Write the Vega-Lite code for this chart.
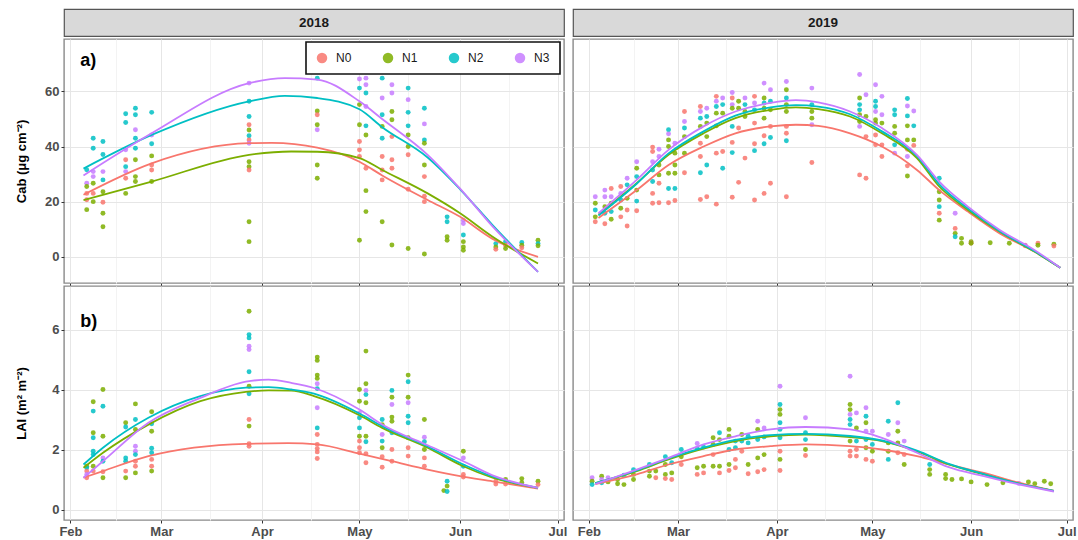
{
"$schema": "https://vega.github.io/schema/vega-lite/v6.json",
"padding": {"left": 14, "top": 8, "right": 0, "bottom": 0},
"background": "white",
"config": {
 "font": "Liberation Sans",
 "view": {"stroke": "#8a8a8a", "strokeWidth": 1.4},
 "axis": {"domain": false, "labelFont": "Liberation Sans", "labelFontWeight": "bold", "labelColor": "#4d4d4d", "labelFontSize": 13, "titleFont": "Liberation Sans", "titleFontSize": 13, "titleFontWeight": "bold", "titleColor": "#000000", "tickColor": "#333333", "tickSize": 3, "labelPadding": 2, "labelOverlap": false, "labelFlush": false},
 "legend": {"strokeWidth": 1.6}
},
"datasets": {
 "cab2018": [
  {"trt":"N2","date":"2018-02-06","val":31.6},{"trt":"N3","date":"2018-02-06","val":26.7},{"trt":"N1","date":"2018-02-06","val":25.5},{"trt":"N0","date":"2018-02-06","val":23},{"trt":"N0","date":"2018-02-06","val":20.7},{"trt":"N1","date":"2018-02-06","val":17.1},
  {"trt":"N2","date":"2018-02-08","val":43},{"trt":"N2","date":"2018-02-08","val":39.4},{"trt":"N3","date":"2018-02-08","val":30.9},{"trt":"N3","date":"2018-02-08","val":29.1},{"trt":"N1","date":"2018-02-08","val":26.7},{"trt":"N0","date":"2018-02-08","val":23},{"trt":"N1","date":"2018-02-08","val":20},
  {"trt":"N2","date":"2018-02-11","val":41.8},{"trt":"N2","date":"2018-02-11","val":37.1},{"trt":"N3","date":"2018-02-11","val":30.9},{"trt":"N2","date":"2018-02-11","val":27.9},{"trt":"N1","date":"2018-02-11","val":23.6},{"trt":"N0","date":"2018-02-11","val":19.8},{"trt":"N1","date":"2018-02-11","val":15.8},{"trt":"N1","date":"2018-02-11","val":10.9},
  {"trt":"N2","date":"2018-02-18","val":51.9},{"trt":"N2","date":"2018-02-18","val":48.7},{"trt":"N3","date":"2018-02-18","val":38.8},{"trt":"N0","date":"2018-02-18","val":35.2},{"trt":"N2","date":"2018-02-18","val":32.7},{"trt":"N3","date":"2018-02-18","val":30.9},{"trt":"N0","date":"2018-02-18","val":28.5},{"trt":"N1","date":"2018-02-18","val":23},
  {"trt":"N2","date":"2018-02-21","val":53.9},{"trt":"N2","date":"2018-02-21","val":51.5},{"trt":"N3","date":"2018-02-21","val":46.1},{"trt":"N2","date":"2018-02-21","val":43},{"trt":"N2","date":"2018-02-21","val":39.4},{"trt":"N1","date":"2018-02-21","val":35.2},{"trt":"N1","date":"2018-02-21","val":29.1},{"trt":"N1","date":"2018-02-21","val":27.3},
  {"trt":"N2","date":"2018-02-26","val":52.4},{"trt":"N3","date":"2018-02-26","val":44.2},{"trt":"N2","date":"2018-02-26","val":41},{"trt":"N1","date":"2018-02-26","val":36.6},{"trt":"N0","date":"2018-02-26","val":33.3},{"trt":"N0","date":"2018-02-26","val":31.5},{"trt":"N1","date":"2018-02-26","val":27.3},
  {"trt":"N3","date":"2018-03-28","val":63},{"trt":"N2","date":"2018-03-28","val":56.4},{"trt":"N2","date":"2018-03-28","val":50.9},{"trt":"N0","date":"2018-03-28","val":47.9},{"trt":"N1","date":"2018-03-28","val":46},{"trt":"N2","date":"2018-03-28","val":43.9},{"trt":"N0","date":"2018-03-28","val":42.4},{"trt":"N3","date":"2018-03-28","val":41.2},{"trt":"N1","date":"2018-03-28","val":34.5},{"trt":"N1","date":"2018-03-28","val":32.7},{"trt":"N0","date":"2018-03-28","val":31.5},{"trt":"N1","date":"2018-03-28","val":12.7},{"trt":"N1","date":"2018-03-28","val":5.5},
  {"trt":"N2","date":"2018-04-18","val":64.8},{"trt":"N1","date":"2018-04-18","val":52.9},{"trt":"N0","date":"2018-04-18","val":51.5},{"trt":"N1","date":"2018-04-18","val":47.9},{"trt":"N3","date":"2018-04-18","val":46.1},{"trt":"N1","date":"2018-04-18","val":33.3},{"trt":"N1","date":"2018-04-18","val":28.5},
  {"trt":"N3","date":"2018-05-01","val":64.5},{"trt":"N2","date":"2018-05-01","val":61.2},{"trt":"N1","date":"2018-05-01","val":55.2},{"trt":"N1","date":"2018-05-01","val":47.9},{"trt":"N0","date":"2018-05-01","val":41.8},{"trt":"N0","date":"2018-05-01","val":38.8},{"trt":"N0","date":"2018-05-01","val":36.4},{"trt":"N1","date":"2018-05-01","val":6},
  {"trt":"N3","date":"2018-05-03","val":64.8},{"trt":"N3","date":"2018-05-03","val":62.4},{"trt":"N2","date":"2018-05-03","val":59.4},{"trt":"N3","date":"2018-05-03","val":54.5},{"trt":"N2","date":"2018-05-03","val":47.5},{"trt":"N1","date":"2018-05-03","val":44.2},{"trt":"N0","date":"2018-05-03","val":32.1},{"trt":"N1","date":"2018-05-03","val":24},{"trt":"N1","date":"2018-05-03","val":16.4},
  {"trt":"N2","date":"2018-05-08","val":64.8},{"trt":"N3","date":"2018-05-08","val":57.6},{"trt":"N2","date":"2018-05-08","val":51.5},{"trt":"N1","date":"2018-05-08","val":47.3},{"trt":"N2","date":"2018-05-08","val":43},{"trt":"N0","date":"2018-05-08","val":36.4},{"trt":"N0","date":"2018-05-08","val":31.5},{"trt":"N0","date":"2018-05-08","val":27.9},{"trt":"N1","date":"2018-05-08","val":12.7},
  {"trt":"N3","date":"2018-05-11","val":62.4},{"trt":"N3","date":"2018-05-11","val":59.4},{"trt":"N1","date":"2018-05-11","val":52.7},{"trt":"N1","date":"2018-05-11","val":49.7},{"trt":"N0","date":"2018-05-11","val":43.6},{"trt":"N0","date":"2018-05-11","val":35.2},{"trt":"N0","date":"2018-05-11","val":32.1},{"trt":"N1","date":"2018-05-11","val":4.3},
  {"trt":"N2","date":"2018-05-16","val":61.2},{"trt":"N3","date":"2018-05-16","val":57},{"trt":"N2","date":"2018-05-16","val":52.4},{"trt":"N2","date":"2018-05-16","val":47.5},{"trt":"N1","date":"2018-05-16","val":44.2},{"trt":"N1","date":"2018-05-16","val":40},{"trt":"N0","date":"2018-05-16","val":37},{"trt":"N0","date":"2018-05-16","val":24.5},{"trt":"N1","date":"2018-05-16","val":3},
  {"trt":"N2","date":"2018-05-21","val":53.9},{"trt":"N3","date":"2018-05-21","val":48.2},{"trt":"N2","date":"2018-05-21","val":42.4},{"trt":"N1","date":"2018-05-21","val":41.2},{"trt":"N1","date":"2018-05-21","val":33.3},{"trt":"N0","date":"2018-05-21","val":29.1},{"trt":"N0","date":"2018-05-21","val":22},{"trt":"N0","date":"2018-05-21","val":20},{"trt":"N1","date":"2018-05-21","val":1},
  {"trt":"N2","date":"2018-05-28","val":14.5},{"trt":"N2","date":"2018-05-28","val":12.7},{"trt":"N1","date":"2018-05-28","val":7.3},{"trt":"N1","date":"2018-05-28","val":6},
  {"trt":"N3","date":"2018-06-02","val":13.3},{"trt":"N3","date":"2018-06-02","val":12.1},{"trt":"N2","date":"2018-06-02","val":7.9},{"trt":"N1","date":"2018-06-02","val":5.5},{"trt":"N1","date":"2018-06-02","val":3.6},{"trt":"N1","date":"2018-06-02","val":2.4},
  {"trt":"N2","date":"2018-06-12","val":4.8},{"trt":"N1","date":"2018-06-12","val":3.6},{"trt":"N0","date":"2018-06-12","val":2.7},
  {"trt":"N2","date":"2018-06-15","val":5.5},{"trt":"N0","date":"2018-06-15","val":4.2},{"trt":"N1","date":"2018-06-15","val":3},
  {"trt":"N2","date":"2018-06-20","val":5.2},{"trt":"N1","date":"2018-06-20","val":4.2},{"trt":"N0","date":"2018-06-20","val":3.3},
  {"trt":"N1","date":"2018-06-25","val":6},{"trt":"N2","date":"2018-06-25","val":4.8},{"trt":"N1","date":"2018-06-25","val":4}
 ],
 "fitcab2018": [
  {"trt":"N0","date":"2018-02-05","val":22.5},{"trt":"N0","date":"2018-02-26","val":33.9},{"trt":"N0","date":"2018-03-28","val":41.2},{"trt":"N0","date":"2018-04-04","val":41.3},{"trt":"N0","date":"2018-04-18","val":39.6},{"trt":"N0","date":"2018-05-01","val":34.5},{"trt":"N0","date":"2018-05-08","val":29.5},{"trt":"N0","date":"2018-05-22","val":20.6},{"trt":"N0","date":"2018-06-01","val":14.5},{"trt":"N0","date":"2018-06-11","val":6.5},{"trt":"N0","date":"2018-06-25","val":0},
  {"trt":"N1","date":"2018-02-05","val":20.6},{"trt":"N1","date":"2018-02-26","val":27.3},{"trt":"N1","date":"2018-03-28","val":37},{"trt":"N1","date":"2018-04-10","val":38.2},{"trt":"N1","date":"2018-04-18","val":38.1},{"trt":"N1","date":"2018-05-01","val":35.8},{"trt":"N1","date":"2018-05-08","val":31.5},{"trt":"N1","date":"2018-05-22","val":23},{"trt":"N1","date":"2018-06-01","val":15.8},{"trt":"N1","date":"2018-06-11","val":7.3},{"trt":"N1","date":"2018-06-25","val":-2.4},
  {"trt":"N2","date":"2018-02-05","val":32},{"trt":"N2","date":"2018-02-26","val":44.2},{"trt":"N2","date":"2018-03-28","val":56.4},{"trt":"N2","date":"2018-04-08","val":58.4},{"trt":"N2","date":"2018-04-18","val":57.6},{"trt":"N2","date":"2018-05-01","val":53.5},{"trt":"N2","date":"2018-05-08","val":47},{"trt":"N2","date":"2018-05-22","val":36},{"trt":"N2","date":"2018-06-01","val":24.5},{"trt":"N2","date":"2018-06-11","val":11.5},{"trt":"N2","date":"2018-06-25","val":-5.5},
  {"trt":"N3","date":"2018-02-05","val":29.5},{"trt":"N3","date":"2018-02-26","val":44.8},{"trt":"N3","date":"2018-03-28","val":63},{"trt":"N3","date":"2018-04-08","val":64.8},{"trt":"N3","date":"2018-04-18","val":64.3},{"trt":"N3","date":"2018-05-01","val":56.4},{"trt":"N3","date":"2018-05-08","val":50},{"trt":"N3","date":"2018-05-22","val":37},{"trt":"N3","date":"2018-06-01","val":24.7},{"trt":"N3","date":"2018-06-11","val":11},{"trt":"N3","date":"2018-06-25","val":-5.5}
 ],
 "cab2019": [
  {"trt":"N3","date":"2019-02-03","val":21.8},{"trt":"N1","date":"2019-02-03","val":19.4},{"trt":"N2","date":"2019-02-03","val":17},{"trt":"N1","date":"2019-02-03","val":14.5},{"trt":"N0","date":"2019-02-03","val":12.7},
  {"trt":"N3","date":"2019-02-06","val":24.2},{"trt":"N3","date":"2019-02-06","val":21.8},{"trt":"N1","date":"2019-02-06","val":18.2},{"trt":"N2","date":"2019-02-06","val":15.8},{"trt":"N0","date":"2019-02-06","val":12},
  {"trt":"N0","date":"2019-02-08","val":24.8},{"trt":"N3","date":"2019-02-08","val":21.8},{"trt":"N1","date":"2019-02-08","val":19.4},{"trt":"N2","date":"2019-02-08","val":16.4},{"trt":"N1","date":"2019-02-08","val":13.6},
  {"trt":"N0","date":"2019-02-11","val":25.5},{"trt":"N3","date":"2019-02-11","val":23},{"trt":"N2","date":"2019-02-11","val":20.6},{"trt":"N1","date":"2019-02-11","val":17.6},{"trt":"N0","date":"2019-02-11","val":14.5},
  {"trt":"N3","date":"2019-02-13","val":28.5},{"trt":"N2","date":"2019-02-13","val":26.1},{"trt":"N1","date":"2019-02-13","val":21.2},{"trt":"N0","date":"2019-02-13","val":17},{"trt":"N0","date":"2019-02-13","val":11.2},
  {"trt":"N3","date":"2019-02-16","val":34.5},{"trt":"N1","date":"2019-02-16","val":32.1},{"trt":"N2","date":"2019-02-16","val":29.1},{"trt":"N1","date":"2019-02-16","val":24.2},{"trt":"N2","date":"2019-02-16","val":20.2},{"trt":"N0","date":"2019-02-16","val":16.7},
  {"trt":"N0","date":"2019-02-21","val":39.8},{"trt":"N0","date":"2019-02-21","val":38.2},{"trt":"N3","date":"2019-02-21","val":34.5},{"trt":"N2","date":"2019-02-21","val":31.5},{"trt":"N2","date":"2019-02-21","val":27.3},{"trt":"N0","date":"2019-02-21","val":23},{"trt":"N0","date":"2019-02-21","val":19.4},
  {"trt":"N3","date":"2019-02-23","val":39},{"trt":"N3","date":"2019-02-23","val":36.4},{"trt":"N1","date":"2019-02-23","val":33.3},{"trt":"N1","date":"2019-02-23","val":29.7},{"trt":"N0","date":"2019-02-23","val":26.7},{"trt":"N0","date":"2019-02-23","val":19.6},
  {"trt":"N2","date":"2019-02-26","val":46.1},{"trt":"N3","date":"2019-02-26","val":44.6},{"trt":"N1","date":"2019-02-26","val":42.4},{"trt":"N1","date":"2019-02-26","val":40},{"trt":"N1","date":"2019-02-26","val":30.3},{"trt":"N2","date":"2019-02-26","val":24.8},{"trt":"N0","date":"2019-02-26","val":19.6},
  {"trt":"N3","date":"2019-02-28","val":41.2},{"trt":"N1","date":"2019-02-28","val":37.6},{"trt":"N1","date":"2019-02-28","val":33.3},{"trt":"N1","date":"2019-02-28","val":30.3},{"trt":"N2","date":"2019-02-28","val":24.8},{"trt":"N0","date":"2019-02-28","val":20.4},
  {"trt":"N0","date":"2019-03-03","val":52.7},{"trt":"N3","date":"2019-03-03","val":49.1},{"trt":"N2","date":"2019-03-03","val":46.7},{"trt":"N1","date":"2019-03-03","val":43.6},{"trt":"N1","date":"2019-03-03","val":37.6},{"trt":"N0","date":"2019-03-03","val":30.5},
  {"trt":"N0","date":"2019-03-08","val":54.5},{"trt":"N3","date":"2019-03-08","val":52.7},{"trt":"N2","date":"2019-03-08","val":50.3},{"trt":"N1","date":"2019-03-08","val":47.3},{"trt":"N0","date":"2019-03-08","val":41.2},{"trt":"N0","date":"2019-03-08","val":36.4},{"trt":"N2","date":"2019-03-08","val":30.5},{"trt":"N0","date":"2019-03-08","val":20.8},
  {"trt":"N3","date":"2019-03-10","val":53.9},{"trt":"N2","date":"2019-03-10","val":50.9},{"trt":"N1","date":"2019-03-10","val":48.5},{"trt":"N1","date":"2019-03-10","val":43.6},{"trt":"N2","date":"2019-03-10","val":33.3},{"trt":"N0","date":"2019-03-10","val":21.8},
  {"trt":"N0","date":"2019-03-13","val":58.2},{"trt":"N3","date":"2019-03-13","val":56.4},{"trt":"N2","date":"2019-03-13","val":54.5},{"trt":"N1","date":"2019-03-13","val":52.1},{"trt":"N1","date":"2019-03-13","val":47.5},{"trt":"N0","date":"2019-03-13","val":37.6},{"trt":"N0","date":"2019-03-13","val":19.1},
  {"trt":"N3","date":"2019-03-15","val":57.6},{"trt":"N2","date":"2019-03-15","val":55.2},{"trt":"N1","date":"2019-03-15","val":52.1},{"trt":"N0","date":"2019-03-15","val":38.2},{"trt":"N2","date":"2019-03-15","val":32.1},
  {"trt":"N3","date":"2019-03-18","val":59.6},{"trt":"N0","date":"2019-03-18","val":57.6},{"trt":"N3","date":"2019-03-18","val":55.2},{"trt":"N1","date":"2019-03-18","val":53.9},{"trt":"N2","date":"2019-03-18","val":47.3},{"trt":"N0","date":"2019-03-18","val":41.5},{"trt":"N2","date":"2019-03-18","val":37.8},{"trt":"N0","date":"2019-03-18","val":21.6},
  {"trt":"N1","date":"2019-03-20","val":56.4},{"trt":"N1","date":"2019-03-20","val":53.9},{"trt":"N0","date":"2019-03-20","val":46.7},{"trt":"N0","date":"2019-03-20","val":27},
  {"trt":"N3","date":"2019-03-22","val":57.6},{"trt":"N2","date":"2019-03-22","val":55.2},{"trt":"N1","date":"2019-03-22","val":52.7},{"trt":"N1","date":"2019-03-22","val":50.9},{"trt":"N0","date":"2019-03-22","val":35.8},
  {"trt":"N0","date":"2019-03-25","val":58.2},{"trt":"N3","date":"2019-03-25","val":55.8},{"trt":"N2","date":"2019-03-25","val":53.3},{"trt":"N0","date":"2019-03-25","val":48.5},{"trt":"N0","date":"2019-03-25","val":41},{"trt":"N2","date":"2019-03-25","val":38.5},{"trt":"N0","date":"2019-03-25","val":20.6},
  {"trt":"N3","date":"2019-03-28","val":63},{"trt":"N1","date":"2019-03-28","val":57.6},{"trt":"N2","date":"2019-03-28","val":55.8},{"trt":"N1","date":"2019-03-28","val":53.9},{"trt":"N1","date":"2019-03-28","val":50.3},{"trt":"N0","date":"2019-03-28","val":43.9},{"trt":"N2","date":"2019-03-28","val":41},{"trt":"N0","date":"2019-03-28","val":23},
  {"trt":"N3","date":"2019-03-30","val":60.6},{"trt":"N2","date":"2019-03-30","val":56.4},{"trt":"N1","date":"2019-03-30","val":53.3},{"trt":"N0","date":"2019-03-30","val":47.3},{"trt":"N2","date":"2019-03-30","val":43.3},{"trt":"N0","date":"2019-03-30","val":26.7},
  {"trt":"N3","date":"2019-04-04","val":63.6},{"trt":"N1","date":"2019-04-04","val":60.6},{"trt":"N2","date":"2019-04-04","val":57.6},{"trt":"N1","date":"2019-04-04","val":55.2},{"trt":"N1","date":"2019-04-04","val":52.7},{"trt":"N0","date":"2019-04-04","val":47.3},{"trt":"N0","date":"2019-04-04","val":44.8},{"trt":"N2","date":"2019-04-04","val":42.1},{"trt":"N0","date":"2019-04-04","val":21.8},
  {"trt":"N3","date":"2019-04-12","val":61.2},{"trt":"N2","date":"2019-04-12","val":55.2},{"trt":"N1","date":"2019-04-12","val":52.7},{"trt":"N1","date":"2019-04-12","val":50.3},{"trt":"N3","date":"2019-04-12","val":47.9},{"trt":"N0","date":"2019-04-12","val":34.2},
  {"trt":"N3","date":"2019-04-27","val":66.1},{"trt":"N1","date":"2019-04-27","val":57.6},{"trt":"N2","date":"2019-04-27","val":55.2},{"trt":"N2","date":"2019-04-27","val":53.3},{"trt":"N1","date":"2019-04-27","val":51.5},{"trt":"N1","date":"2019-04-27","val":49.1},{"trt":"N3","date":"2019-04-27","val":47.3},{"trt":"N0","date":"2019-04-27","val":29.7},
  {"trt":"N3","date":"2019-04-29","val":58.8},{"trt":"N1","date":"2019-04-29","val":50.9},{"trt":"N0","date":"2019-04-29","val":43.6},{"trt":"N0","date":"2019-04-29","val":28.5},
  {"trt":"N3","date":"2019-05-02","val":62.4},{"trt":"N2","date":"2019-05-02","val":56.4},{"trt":"N2","date":"2019-05-02","val":54.5},{"trt":"N3","date":"2019-05-02","val":52.7},{"trt":"N1","date":"2019-05-02","val":49.7},{"trt":"N1","date":"2019-05-02","val":48.5},{"trt":"N0","date":"2019-05-02","val":44.2},{"trt":"N0","date":"2019-05-02","val":40.6},
  {"trt":"N3","date":"2019-05-04","val":58.2},{"trt":"N3","date":"2019-05-04","val":51.5},{"trt":"N1","date":"2019-05-04","val":48.5},{"trt":"N0","date":"2019-05-04","val":40.6},{"trt":"N0","date":"2019-05-04","val":36.4},
  {"trt":"N2","date":"2019-05-08","val":53.3},{"trt":"N2","date":"2019-05-08","val":51.5},{"trt":"N1","date":"2019-05-08","val":47.3},{"trt":"N1","date":"2019-05-08","val":44.8},{"trt":"N2","date":"2019-05-08","val":40.6},{"trt":"N3","date":"2019-05-08","val":37.6},
  {"trt":"N2","date":"2019-05-12","val":57.4},{"trt":"N3","date":"2019-05-12","val":54.7},{"trt":"N2","date":"2019-05-12","val":51.1},{"trt":"N1","date":"2019-05-12","val":47.5},{"trt":"N1","date":"2019-05-12","val":42.4},{"trt":"N0","date":"2019-05-12","val":39},{"trt":"N3","date":"2019-05-12","val":36.4},{"trt":"N0","date":"2019-05-12","val":33},{"trt":"N1","date":"2019-05-12","val":29.3},
  {"trt":"N3","date":"2019-05-14","val":52.9},{"trt":"N2","date":"2019-05-14","val":47.5},{"trt":"N1","date":"2019-05-14","val":42.4},{"trt":"N0","date":"2019-05-14","val":40.4},
  {"trt":"N2","date":"2019-05-22","val":28.5},{"trt":"N1","date":"2019-05-22","val":23.6},{"trt":"N1","date":"2019-05-22","val":20.6},{"trt":"N2","date":"2019-05-22","val":18.2},{"trt":"N0","date":"2019-05-22","val":15.8},{"trt":"N1","date":"2019-05-22","val":13.3},
  {"trt":"N3","date":"2019-05-27","val":15.8},{"trt":"N0","date":"2019-05-27","val":10.3},{"trt":"N1","date":"2019-05-27","val":8.5},{"trt":"N2","date":"2019-05-27","val":7.3},
  {"trt":"N1","date":"2019-05-29","val":6.7},{"trt":"N1","date":"2019-05-29","val":4.9},
  {"trt":"N1","date":"2019-06-01","val":5.5},{"trt":"N0","date":"2019-06-01","val":5},{"trt":"N1","date":"2019-06-01","val":4.9},
  {"trt":"N1","date":"2019-06-07","val":5.1},{"trt":"N1","date":"2019-06-13","val":4.9},
  {"trt":"N3","date":"2019-06-18","val":4.2},{"trt":"N0","date":"2019-06-18","val":4},
  {"trt":"N0","date":"2019-06-22","val":4.9},{"trt":"N1","date":"2019-06-22","val":4.2},
  {"trt":"N1","date":"2019-06-27","val":4.6},{"trt":"N0","date":"2019-06-27","val":3.9}
 ],
 "fitcab2019": [
  {"trt":"N0","date":"2019-02-04","val":14.1},{"trt":"N0","date":"2019-02-16","val":24.2},{"trt":"N0","date":"2019-02-26","val":33.3},{"trt":"N0","date":"2019-03-09","val":40},{"trt":"N0","date":"2019-03-19","val":44.8},{"trt":"N0","date":"2019-03-30","val":47.3},{"trt":"N0","date":"2019-04-07","val":47.9},{"trt":"N0","date":"2019-04-14","val":47.5},{"trt":"N0","date":"2019-04-24","val":44.8},{"trt":"N0","date":"2019-05-04","val":40},{"trt":"N0","date":"2019-05-15","val":31.5},{"trt":"N0","date":"2019-05-22","val":24.2},{"trt":"N0","date":"2019-05-31","val":16.4},{"trt":"N0","date":"2019-06-10","val":8.5},{"trt":"N0","date":"2019-06-21","val":1.8},{"trt":"N0","date":"2019-06-29","val":-4},
  {"trt":"N1","date":"2019-02-04","val":15.3},{"trt":"N1","date":"2019-02-16","val":26.7},{"trt":"N1","date":"2019-02-26","val":37},{"trt":"N1","date":"2019-03-09","val":44.8},{"trt":"N1","date":"2019-03-19","val":50.3},{"trt":"N1","date":"2019-03-30","val":53.3},{"trt":"N1","date":"2019-04-07","val":54.2},{"trt":"N1","date":"2019-04-14","val":53.6},{"trt":"N1","date":"2019-04-24","val":50.9},{"trt":"N1","date":"2019-05-04","val":44.8},{"trt":"N1","date":"2019-05-15","val":35.8},{"trt":"N1","date":"2019-05-22","val":25.5},{"trt":"N1","date":"2019-05-31","val":17},{"trt":"N1","date":"2019-06-10","val":9.1},{"trt":"N1","date":"2019-06-21","val":1.8},{"trt":"N1","date":"2019-06-29","val":-4},
  {"trt":"N2","date":"2019-02-04","val":15},{"trt":"N2","date":"2019-02-16","val":26.5},{"trt":"N2","date":"2019-02-26","val":37.5},{"trt":"N2","date":"2019-03-09","val":45.5},{"trt":"N2","date":"2019-03-19","val":51.2},{"trt":"N2","date":"2019-03-30","val":54.2},{"trt":"N2","date":"2019-04-07","val":55},{"trt":"N2","date":"2019-04-14","val":54.5},{"trt":"N2","date":"2019-04-24","val":51.7},{"trt":"N2","date":"2019-05-04","val":45.5},{"trt":"N2","date":"2019-05-15","val":36.5},{"trt":"N2","date":"2019-05-22","val":26.3},{"trt":"N2","date":"2019-05-31","val":17.5},{"trt":"N2","date":"2019-06-10","val":9.3},{"trt":"N2","date":"2019-06-21","val":2},{"trt":"N2","date":"2019-06-29","val":-4},
  {"trt":"N3","date":"2019-02-04","val":15.8},{"trt":"N3","date":"2019-02-16","val":27.9},{"trt":"N3","date":"2019-02-26","val":38.8},{"trt":"N3","date":"2019-03-09","val":47.3},{"trt":"N3","date":"2019-03-19","val":52.7},{"trt":"N3","date":"2019-03-30","val":55.8},{"trt":"N3","date":"2019-04-07","val":56.8},{"trt":"N3","date":"2019-04-14","val":56},{"trt":"N3","date":"2019-04-24","val":52.7},{"trt":"N3","date":"2019-05-04","val":46.7},{"trt":"N3","date":"2019-05-15","val":37},{"trt":"N3","date":"2019-05-22","val":27.3},{"trt":"N3","date":"2019-05-31","val":18.2},{"trt":"N3","date":"2019-06-10","val":9.7},{"trt":"N3","date":"2019-06-21","val":2.4},{"trt":"N3","date":"2019-06-29","val":-4}
 ],
 "lai2018": [
  {"trt":"N1","date":"2018-02-06","val":1.44},{"trt":"N2","date":"2018-02-06","val":1.39},{"trt":"N0","date":"2018-02-06","val":1.28},{"trt":"N3","date":"2018-02-06","val":1.17},{"trt":"N0","date":"2018-02-06","val":1.06},
  {"trt":"N1","date":"2018-02-08","val":3.59},{"trt":"N2","date":"2018-02-08","val":3.28},{"trt":"N1","date":"2018-02-08","val":2.56},{"trt":"N2","date":"2018-02-08","val":2.39},{"trt":"N2","date":"2018-02-08","val":1.94},{"trt":"N2","date":"2018-02-08","val":1.83},{"trt":"N1","date":"2018-02-08","val":1.44},{"trt":"N0","date":"2018-02-08","val":1.28},
  {"trt":"N1","date":"2018-02-11","val":4.0},{"trt":"N2","date":"2018-02-11","val":3.44},{"trt":"N1","date":"2018-02-11","val":2.44},{"trt":"N3","date":"2018-02-11","val":1.72},{"trt":"N2","date":"2018-02-11","val":1.61},{"trt":"N0","date":"2018-02-11","val":1.26},{"trt":"N1","date":"2018-02-11","val":1.06},
  {"trt":"N1","date":"2018-02-18","val":2.89},{"trt":"N2","date":"2018-02-18","val":2.75},{"trt":"N2","date":"2018-02-18","val":1.72},{"trt":"N2","date":"2018-02-18","val":1.61},{"trt":"N0","date":"2018-02-18","val":1.28},{"trt":"N1","date":"2018-02-18","val":1.06},
  {"trt":"N1","date":"2018-02-21","val":3.52},{"trt":"N2","date":"2018-02-21","val":3.0},{"trt":"N1","date":"2018-02-21","val":2.67},{"trt":"N3","date":"2018-02-21","val":2.11},{"trt":"N3","date":"2018-02-21","val":1.94},{"trt":"N2","date":"2018-02-21","val":1.83},{"trt":"N0","date":"2018-02-21","val":1.61},{"trt":"N0","date":"2018-02-21","val":1.44},{"trt":"N1","date":"2018-02-21","val":1.22},
  {"trt":"N1","date":"2018-02-26","val":3.26},{"trt":"N2","date":"2018-02-26","val":2.86},{"trt":"N1","date":"2018-02-26","val":2.61},{"trt":"N2","date":"2018-02-26","val":2.04},{"trt":"N2","date":"2018-02-26","val":1.89},{"trt":"N0","date":"2018-02-26","val":1.67},{"trt":"N0","date":"2018-02-26","val":1.44},{"trt":"N1","date":"2018-02-26","val":1.28},
  {"trt":"N1","date":"2018-03-28","val":6.61},{"trt":"N2","date":"2018-03-28","val":5.83},{"trt":"N2","date":"2018-03-28","val":5.72},{"trt":"N3","date":"2018-03-28","val":5.44},{"trt":"N3","date":"2018-03-28","val":5.33},{"trt":"N2","date":"2018-03-28","val":4.59},{"trt":"N1","date":"2018-03-28","val":4.11},{"trt":"N2","date":"2018-03-28","val":3.86},{"trt":"N0","date":"2018-03-28","val":3.0},{"trt":"N1","date":"2018-03-28","val":2.78},{"trt":"N0","date":"2018-03-28","val":2.19},{"trt":"N0","date":"2018-03-28","val":2.11},
  {"trt":"N1","date":"2018-04-18","val":5.08},{"trt":"N1","date":"2018-04-18","val":4.97},{"trt":"N1","date":"2018-04-18","val":4.48},{"trt":"N1","date":"2018-04-18","val":4.37},{"trt":"N3","date":"2018-04-18","val":4.19},{"trt":"N2","date":"2018-04-18","val":4.03},{"trt":"N3","date":"2018-04-18","val":3.39},{"trt":"N2","date":"2018-04-18","val":2.72},{"trt":"N0","date":"2018-04-18","val":2.5},{"trt":"N0","date":"2018-04-18","val":2.17},{"trt":"N0","date":"2018-04-18","val":2.03},{"trt":"N0","date":"2018-04-18","val":1.92},{"trt":"N0","date":"2018-04-18","val":1.7},
  {"trt":"N1","date":"2018-05-01","val":4.0},{"trt":"N1","date":"2018-05-01","val":3.61},{"trt":"N3","date":"2018-05-01","val":3.22},{"trt":"N2","date":"2018-05-01","val":3.06},{"trt":"N2","date":"2018-05-01","val":2.72},{"trt":"N1","date":"2018-05-01","val":2.44},{"trt":"N0","date":"2018-05-01","val":2.28},{"trt":"N0","date":"2018-05-01","val":2.06},{"trt":"N0","date":"2018-05-01","val":1.89},
  {"trt":"N1","date":"2018-05-03","val":5.28},{"trt":"N1","date":"2018-05-03","val":4.19},{"trt":"N3","date":"2018-05-03","val":3.97},{"trt":"N2","date":"2018-05-03","val":3.83},{"trt":"N1","date":"2018-05-03","val":3.56},{"trt":"N1","date":"2018-05-03","val":2.44},{"trt":"N2","date":"2018-05-03","val":2.26},{"trt":"N0","date":"2018-05-03","val":1.86},{"trt":"N0","date":"2018-05-03","val":1.56},
  {"trt":"N2","date":"2018-05-08","val":3.0},{"trt":"N1","date":"2018-05-08","val":2.83},{"trt":"N3","date":"2018-05-08","val":2.5},{"trt":"N2","date":"2018-05-08","val":2.28},{"trt":"N1","date":"2018-05-08","val":2.06},{"trt":"N0","date":"2018-05-08","val":1.76},{"trt":"N0","date":"2018-05-08","val":1.41},
  {"trt":"N2","date":"2018-05-11","val":3.97},{"trt":"N1","date":"2018-05-11","val":3.74},{"trt":"N3","date":"2018-05-11","val":3.5},{"trt":"N1","date":"2018-05-11","val":3.08},{"trt":"N1","date":"2018-05-11","val":2.94},{"trt":"N2","date":"2018-05-11","val":2.56},{"trt":"N0","date":"2018-05-11","val":2.0},{"trt":"N0","date":"2018-05-11","val":1.61},
  {"trt":"N1","date":"2018-05-16","val":4.48},{"trt":"N2","date":"2018-05-16","val":4.26},{"trt":"N1","date":"2018-05-16","val":3.74},{"trt":"N3","date":"2018-05-16","val":3.56},{"trt":"N2","date":"2018-05-16","val":3.11},{"trt":"N2","date":"2018-05-16","val":2.89},{"trt":"N1","date":"2018-05-16","val":2.39},{"trt":"N0","date":"2018-05-16","val":2.06},{"trt":"N0","date":"2018-05-16","val":1.78},
  {"trt":"N1","date":"2018-05-21","val":3.0},{"trt":"N3","date":"2018-05-21","val":2.41},{"trt":"N2","date":"2018-05-21","val":2.26},{"trt":"N1","date":"2018-05-21","val":2.0},{"trt":"N0","date":"2018-05-21","val":1.72},{"trt":"N0","date":"2018-05-21","val":1.44},
  {"trt":"N2","date":"2018-05-28","val":0.94},{"trt":"N1","date":"2018-05-28","val":0.78},{"trt":"N1","date":"2018-05-27","val":0.63},{"trt":"N2","date":"2018-05-28","val":0.6},
  {"trt":"N1","date":"2018-06-02","val":1.94},{"trt":"N3","date":"2018-06-02","val":1.72},{"trt":"N2","date":"2018-06-02","val":1.44},{"trt":"N0","date":"2018-06-02","val":1.17},{"trt":"N0","date":"2018-06-02","val":1.08},
  {"trt":"N0","date":"2018-06-12","val":0.94},{"trt":"N0","date":"2018-06-12","val":0.85},
  {"trt":"N1","date":"2018-06-15","val":1.0},{"trt":"N0","date":"2018-06-15","val":0.85},
  {"trt":"N1","date":"2018-06-20","val":1.03},{"trt":"N1","date":"2018-06-20","val":0.9},
  {"trt":"N1","date":"2018-06-25","val":0.94},{"trt":"N0","date":"2018-06-25","val":0.83}
 ],
 "fitlai2018": [
  {"trt":"N0","date":"2018-02-05","val":1.06},{"trt":"N0","date":"2018-02-11","val":1.28},{"trt":"N0","date":"2018-02-25","val":1.78},{"trt":"N0","date":"2018-03-27","val":2.19},{"trt":"N0","date":"2018-04-09","val":2.21},{"trt":"N0","date":"2018-04-18","val":2.17},{"trt":"N0","date":"2018-05-01","val":1.86},{"trt":"N0","date":"2018-05-11","val":1.61},{"trt":"N0","date":"2018-05-22","val":1.33},{"trt":"N0","date":"2018-06-01","val":1.11},{"trt":"N0","date":"2018-06-11","val":0.94},{"trt":"N0","date":"2018-06-25","val":0.7},
  {"trt":"N1","date":"2018-02-05","val":1.39},{"trt":"N1","date":"2018-02-11","val":1.89},{"trt":"N1","date":"2018-02-25","val":2.83},{"trt":"N1","date":"2018-03-13","val":3.61},{"trt":"N1","date":"2018-03-27","val":3.92},{"trt":"N1","date":"2018-04-03","val":3.97},{"trt":"N1","date":"2018-04-10","val":3.96},{"trt":"N1","date":"2018-04-17","val":3.78},{"trt":"N1","date":"2018-05-01","val":3.14},{"trt":"N1","date":"2018-05-08","val":2.72},{"trt":"N1","date":"2018-05-22","val":2.06},{"trt":"N1","date":"2018-06-02","val":1.44},{"trt":"N1","date":"2018-06-11","val":1.06},{"trt":"N1","date":"2018-06-25","val":0.72},
  {"trt":"N2","date":"2018-02-05","val":1.5},{"trt":"N2","date":"2018-02-11","val":2.06},{"trt":"N2","date":"2018-02-25","val":3.06},{"trt":"N2","date":"2018-03-13","val":3.78},{"trt":"N2","date":"2018-03-27","val":4.06},{"trt":"N2","date":"2018-04-03","val":4.08},{"trt":"N2","date":"2018-04-10","val":4.0},{"trt":"N2","date":"2018-04-17","val":3.86},{"trt":"N2","date":"2018-05-01","val":3.2},{"trt":"N2","date":"2018-05-08","val":2.78},{"trt":"N2","date":"2018-05-22","val":2.1},{"trt":"N2","date":"2018-06-02","val":1.5},{"trt":"N2","date":"2018-06-11","val":1.1},{"trt":"N2","date":"2018-06-25","val":0.72},
  {"trt":"N3","date":"2018-02-05","val":1.06},{"trt":"N3","date":"2018-02-11","val":1.61},{"trt":"N3","date":"2018-02-25","val":2.89},{"trt":"N3","date":"2018-03-13","val":3.72},{"trt":"N3","date":"2018-03-27","val":4.26},{"trt":"N3","date":"2018-04-03","val":4.33},{"trt":"N3","date":"2018-04-10","val":4.22},{"trt":"N3","date":"2018-04-17","val":4.05},{"trt":"N3","date":"2018-05-01","val":3.33},{"trt":"N3","date":"2018-05-08","val":2.83},{"trt":"N3","date":"2018-05-22","val":2.14},{"trt":"N3","date":"2018-06-02","val":1.61},{"trt":"N3","date":"2018-06-11","val":1.14},{"trt":"N3","date":"2018-06-25","val":0.72}
 ],
 "lai2019": [
  {"trt":"N3","date":"2019-02-02","val":1.06},{"trt":"N1","date":"2019-02-02","val":0.94},{"trt":"N2","date":"2019-02-02","val":0.83},
  {"trt":"N1","date":"2019-02-05","val":1.11},{"trt":"N3","date":"2019-02-05","val":1.0},{"trt":"N2","date":"2019-02-05","val":0.89},
  {"trt":"N3","date":"2019-02-07","val":1.06},{"trt":"N1","date":"2019-02-07","val":0.92},
  {"trt":"N1","date":"2019-02-10","val":1.0},{"trt":"N1","date":"2019-02-10","val":0.86},
  {"trt":"N2","date":"2019-02-12","val":1.14},{"trt":"N1","date":"2019-02-12","val":0.83},
  {"trt":"N2","date":"2019-02-15","val":1.33},{"trt":"N1","date":"2019-02-15","val":1.17},{"trt":"N1","date":"2019-02-15","val":1.0},
  {"trt":"N2","date":"2019-02-20","val":1.5},{"trt":"N1","date":"2019-02-20","val":1.28},{"trt":"N1","date":"2019-02-20","val":1.11},
  {"trt":"N1","date":"2019-02-22","val":1.28},{"trt":"N0","date":"2019-02-22","val":1.06},
  {"trt":"N2","date":"2019-02-25","val":1.76},{"trt":"N1","date":"2019-02-25","val":1.5},{"trt":"N1","date":"2019-02-25","val":1.17},{"trt":"N0","date":"2019-02-25","val":1.03},
  {"trt":"N2","date":"2019-02-27","val":1.56},{"trt":"N1","date":"2019-02-27","val":1.22},{"trt":"N0","date":"2019-02-27","val":1.0},
  {"trt":"N2","date":"2019-03-02","val":2.0},{"trt":"N1","date":"2019-03-02","val":1.76},{"trt":"N0","date":"2019-03-02","val":1.5},
  {"trt":"N3","date":"2019-03-07","val":2.2},{"trt":"N2","date":"2019-03-07","val":2.03},{"trt":"N1","date":"2019-03-07","val":1.39},{"trt":"N0","date":"2019-03-07","val":1.17},
  {"trt":"N2","date":"2019-03-09","val":2.08},{"trt":"N1","date":"2019-03-09","val":1.44},{"trt":"N0","date":"2019-03-09","val":1.22},
  {"trt":"N1","date":"2019-03-12","val":2.39},{"trt":"N1","date":"2019-03-12","val":2.17},{"trt":"N0","date":"2019-03-12","val":1.83},{"trt":"N1","date":"2019-03-12","val":1.44},
  {"trt":"N2","date":"2019-03-14","val":2.56},{"trt":"N1","date":"2019-03-14","val":2.33},{"trt":"N1","date":"2019-03-14","val":1.44},{"trt":"N0","date":"2019-03-14","val":1.22},
  {"trt":"N1","date":"2019-03-17","val":2.67},{"trt":"N1","date":"2019-03-17","val":2.44},{"trt":"N2","date":"2019-03-17","val":2.0},{"trt":"N1","date":"2019-03-17","val":1.5},{"trt":"N0","date":"2019-03-17","val":1.3},
  {"trt":"N2","date":"2019-03-19","val":2.28},{"trt":"N2","date":"2019-03-19","val":2.06},{"trt":"N0","date":"2019-03-19","val":1.67},{"trt":"N0","date":"2019-03-19","val":1.39},
  {"trt":"N1","date":"2019-03-21","val":2.5},{"trt":"N2","date":"2019-03-21","val":2.28},{"trt":"N0","date":"2019-03-21","val":1.94},
  {"trt":"N2","date":"2019-03-23","val":2.44},{"trt":"N2","date":"2019-03-23","val":2.22},{"trt":"N1","date":"2019-03-23","val":1.5},{"trt":"N0","date":"2019-03-23","val":1.19},
  {"trt":"N3","date":"2019-03-26","val":2.94},{"trt":"N1","date":"2019-03-26","val":2.67},{"trt":"N2","date":"2019-03-26","val":2.33},{"trt":"N1","date":"2019-03-26","val":1.72},{"trt":"N0","date":"2019-03-26","val":1.26},
  {"trt":"N3","date":"2019-03-28","val":2.72},{"trt":"N2","date":"2019-03-28","val":2.42},{"trt":"N1","date":"2019-03-28","val":1.83},{"trt":"N0","date":"2019-03-28","val":1.33},
  {"trt":"N3","date":"2019-04-02","val":4.11},{"trt":"N2","date":"2019-04-02","val":3.5},{"trt":"N1","date":"2019-04-02","val":3.33},{"trt":"N1","date":"2019-04-02","val":3.17},{"trt":"N2","date":"2019-04-02","val":2.89},{"trt":"N2","date":"2019-04-02","val":2.67},{"trt":"N2","date":"2019-04-02","val":2.39},{"trt":"N0","date":"2019-04-02","val":1.94},{"trt":"N1","date":"2019-04-02","val":1.67},{"trt":"N0","date":"2019-04-02","val":1.3},
  {"trt":"N3","date":"2019-04-10","val":3.06},{"trt":"N2","date":"2019-04-10","val":2.56},{"trt":"N2","date":"2019-04-10","val":2.33},{"trt":"N1","date":"2019-04-10","val":2.0},{"trt":"N0","date":"2019-04-10","val":1.8},
  {"trt":"N3","date":"2019-04-24","val":4.44},{"trt":"N1","date":"2019-04-24","val":3.5},{"trt":"N1","date":"2019-04-24","val":3.33},{"trt":"N3","date":"2019-04-24","val":3.17},{"trt":"N2","date":"2019-04-24","val":3.0},{"trt":"N2","date":"2019-04-24","val":2.83},{"trt":"N1","date":"2019-04-24","val":2.28},{"trt":"N0","date":"2019-04-24","val":1.94},{"trt":"N0","date":"2019-04-24","val":1.78},
  {"trt":"N3","date":"2019-04-26","val":3.22},{"trt":"N1","date":"2019-04-26","val":2.72},{"trt":"N2","date":"2019-04-26","val":2.28},{"trt":"N0","date":"2019-04-26","val":2.0},{"trt":"N0","date":"2019-04-26","val":1.78},
  {"trt":"N3","date":"2019-04-29","val":3.39},{"trt":"N2","date":"2019-04-29","val":3.11},{"trt":"N1","date":"2019-04-29","val":2.89},{"trt":"N3","date":"2019-04-29","val":2.61},{"trt":"N2","date":"2019-04-29","val":2.33},{"trt":"N1","date":"2019-04-29","val":2.06},{"trt":"N0","date":"2019-04-29","val":1.67},
  {"trt":"N3","date":"2019-05-01","val":2.61},{"trt":"N2","date":"2019-05-01","val":2.17},{"trt":"N1","date":"2019-05-01","val":1.94},{"trt":"N0","date":"2019-05-01","val":1.61},
  {"trt":"N2","date":"2019-05-06","val":2.94},{"trt":"N3","date":"2019-05-06","val":2.5},{"trt":"N1","date":"2019-05-06","val":2.22},{"trt":"N1","date":"2019-05-06","val":1.94},{"trt":"N2","date":"2019-05-06","val":1.67},
  {"trt":"N2","date":"2019-05-09","val":3.56},{"trt":"N3","date":"2019-05-09","val":2.89},{"trt":"N1","date":"2019-05-09","val":2.61},{"trt":"N1","date":"2019-05-09","val":2.22},{"trt":"N0","date":"2019-05-09","val":1.89},
  {"trt":"N3","date":"2019-05-11","val":2.28},{"trt":"N0","date":"2019-05-11","val":1.83},{"trt":"N1","date":"2019-05-11","val":1.5},
  {"trt":"N2","date":"2019-05-19","val":1.5},{"trt":"N1","date":"2019-05-19","val":1.33},{"trt":"N1","date":"2019-05-19","val":1.17},
  {"trt":"N1","date":"2019-05-24","val":1.17},{"trt":"N1","date":"2019-05-24","val":1.03},
  {"trt":"N1","date":"2019-05-26","val":1.0},{"trt":"N1","date":"2019-05-29","val":1.02},{"trt":"N1","date":"2019-06-01","val":0.92},{"trt":"N1","date":"2019-06-06","val":0.83},{"trt":"N1","date":"2019-06-11","val":0.89},{"trt":"N3","date":"2019-06-16","val":0.87},{"trt":"N1","date":"2019-06-19","val":0.92},{"trt":"N1","date":"2019-06-21","val":0.86},{"trt":"N1","date":"2019-06-24","val":0.94},{"trt":"N1","date":"2019-06-26","val":0.86}
 ],
 "fitlai2019": [
  {"trt":"N0","date":"2019-02-03","val":0.85},{"trt":"N0","date":"2019-02-16","val":1.17},{"trt":"N0","date":"2019-02-26","val":1.5},{"trt":"N0","date":"2019-03-09","val":1.78},{"trt":"N0","date":"2019-03-19","val":2.0},{"trt":"N0","date":"2019-03-30","val":2.11},{"trt":"N0","date":"2019-04-10","val":2.17},{"trt":"N0","date":"2019-04-24","val":2.11},{"trt":"N0","date":"2019-05-04","val":2.0},{"trt":"N0","date":"2019-05-15","val":1.78},{"trt":"N0","date":"2019-05-25","val":1.5},{"trt":"N0","date":"2019-06-05","val":1.22},{"trt":"N0","date":"2019-06-15","val":0.92},{"trt":"N0","date":"2019-06-27","val":0.62},
  {"trt":"N1","date":"2019-02-03","val":0.88},{"trt":"N1","date":"2019-02-16","val":1.28},{"trt":"N1","date":"2019-02-26","val":1.67},{"trt":"N1","date":"2019-03-09","val":2.03},{"trt":"N1","date":"2019-03-19","val":2.28},{"trt":"N1","date":"2019-03-30","val":2.44},{"trt":"N1","date":"2019-04-10","val":2.5},{"trt":"N1","date":"2019-04-24","val":2.41},{"trt":"N1","date":"2019-05-04","val":2.28},{"trt":"N1","date":"2019-05-15","val":1.94},{"trt":"N1","date":"2019-05-25","val":1.5},{"trt":"N1","date":"2019-06-05","val":1.17},{"trt":"N1","date":"2019-06-15","val":0.89},{"trt":"N1","date":"2019-06-27","val":0.62},
  {"trt":"N2","date":"2019-02-03","val":0.88},{"trt":"N2","date":"2019-02-16","val":1.3},{"trt":"N2","date":"2019-02-26","val":1.7},{"trt":"N2","date":"2019-03-09","val":2.06},{"trt":"N2","date":"2019-03-19","val":2.32},{"trt":"N2","date":"2019-03-30","val":2.48},{"trt":"N2","date":"2019-04-10","val":2.52},{"trt":"N2","date":"2019-04-24","val":2.45},{"trt":"N2","date":"2019-05-04","val":2.3},{"trt":"N2","date":"2019-05-15","val":1.96},{"trt":"N2","date":"2019-05-25","val":1.52},{"trt":"N2","date":"2019-06-05","val":1.18},{"trt":"N2","date":"2019-06-15","val":0.89},{"trt":"N2","date":"2019-06-27","val":0.62},
  {"trt":"N3","date":"2019-02-03","val":0.85},{"trt":"N3","date":"2019-02-16","val":1.33},{"trt":"N3","date":"2019-02-26","val":1.72},{"trt":"N3","date":"2019-03-09","val":2.17},{"trt":"N3","date":"2019-03-19","val":2.44},{"trt":"N3","date":"2019-03-30","val":2.67},{"trt":"N3","date":"2019-04-10","val":2.75},{"trt":"N3","date":"2019-04-24","val":2.67},{"trt":"N3","date":"2019-05-04","val":2.39},{"trt":"N3","date":"2019-05-15","val":1.89},{"trt":"N3","date":"2019-05-25","val":1.41},{"trt":"N3","date":"2019-06-05","val":1.11},{"trt":"N3","date":"2019-06-15","val":0.86},{"trt":"N3","date":"2019-06-27","val":0.6}
 ]
},
"columns": 2,
"spacing": {"row": 3, "column": 9},
"bounds": "flush",
"align": "each",
"concat": [
 {"width": 500, "height": 27, "data": {"values": [{"year": "2018"}]}, "view": {"fill": "#d9d9d9", "stroke": "#555555", "strokeWidth": 1.2},
  "mark": {"type": "text", "fontWeight": "bold", "fontSize": 13.5, "color": "#1a1a1a"}, "encoding": {"text": {"field": "year", "type": "nominal"}}},
 {"width": 500, "height": 27, "data": {"values": [{"year": "2019"}]}, "view": {"fill": "#d9d9d9", "stroke": "#555555", "strokeWidth": 1.2},
  "mark": {"type": "text", "fontWeight": "bold", "fontSize": 13.5, "color": "#1a1a1a"}, "encoding": {"text": {"field": "year", "type": "nominal"}}},
 {"width": 500, "height": 244,
  "layer": [
   {"data": {"name": "cab2018"}, "mark": {"type": "circle", "size": 24, "opacity": 0.85},
    "encoding": {
     "x": {"field": "date", "type": "temporal", "scale": {"type": "utc", "domain": [{"year": 2018, "month": 1, "date": 30, "utc": true}, {"year": 2018, "month": 7, "date": 3, "utc": true}]},
      "axis": {"title": null, "labels": false, "values": [{"year":2018,"month":2,"date":1,"utc":true},{"year":2018,"month":2,"date":15,"utc":true},{"year":2018,"month":3,"date":1,"utc":true},{"year":2018,"month":3,"date":16,"utc":true},{"year":2018,"month":4,"date":1,"utc":true},{"year":2018,"month":4,"date":16,"utc":true},{"year":2018,"month":5,"date":1,"utc":true},{"year":2018,"month":5,"date":16,"utc":true},{"year":2018,"month":6,"date":1,"utc":true},{"year":2018,"month":6,"date":16,"utc":true},{"year":2018,"month":7,"date":1,"utc":true}],
       "tickOpacity": {"condition": {"test": "utcdate(datum.value) == 1", "value": 1}, "value": 0},
       "gridColor": {"condition": {"test": "utcdate(datum.value) == 1", "value": "#e6e6e6"}, "value": "#f3f3f3"}}},
     "y": {"field": "val", "type": "quantitative", "scale": {"domain": [-9.5, 79], "nice": false, "zero": false},
      "axis": {"title": "Cab (μg cm⁻²)", "values": [0, 10, 20, 30, 40, 50, 60, 70], "labelExpr": "datum.value % 20 == 0 ? datum.label : ''", "minExtent": 24, "maxExtent": 24, "titlePadding": 12,
       "tickOpacity": {"condition": {"test": "datum.value % 20 == 0", "value": 1}, "value": 0},
       "gridColor": {"condition": {"test": "datum.value % 20 == 0", "value": "#e6e6e6"}, "value": "#f3f3f3"}}},
     "color": {"field": "trt", "type": "nominal", "scale": {"domain": ["N0", "N1", "N2", "N3"], "range": ["#F8766D", "#7CAE00", "#00BFC4", "#C77CFF"]},
      "legend": {"orient": "none", "legendX": 242, "legendY": 33, "direction": "horizontal", "title": null, "symbolType": "circle", "symbolSize": 110, "symbolStrokeWidth": 0, "labelFontSize": 12, "labelColor": "#1a1a1a", "labelOffset": 8, "columnPadding": 30, "padding": 10, "strokeColor": "#111111", "fillColor": "#ffffff"}}
    }},
   {"data": {"name": "fitcab2018"}, "mark": {"type": "line", "interpolate": "monotone", "strokeWidth": 1.8, "clip": true},
    "encoding": {"x": {"field": "date", "type": "temporal"}, "y": {"field": "val", "type": "quantitative"},
     "color": {"field": "trt", "type": "nominal", "legend": {"orient": "none", "legendX": 242, "legendY": 33, "direction": "horizontal", "title": null, "symbolType": "circle", "symbolSize": 110, "symbolStrokeWidth": 0, "labelFontSize": 12, "labelColor": "#1a1a1a", "labelOffset": 8, "columnPadding": 30, "padding": 10, "strokeColor": "#111111", "fillColor": "#ffffff"}}}},
   {"data": {"values": [{"label": "a)"}]}, "mark": {"type": "text", "fontSize": 18, "fontWeight": "bold", "align": "left", "baseline": "middle", "color": "#000000"},
    "encoding": {"text": {"field": "label", "type": "nominal"}, "x": {"datum": {"year": 2018, "month": 2, "date": 4, "utc": true}, "type": "temporal", "scale": {"type": "utc"}}, "y": {"datum": 71, "type": "quantitative"}}}
  ]},
 {"width": 500, "height": 244,
  "layer": [
   {"data": {"name": "cab2019"}, "mark": {"type": "circle", "size": 24, "opacity": 0.85},
    "encoding": {
     "x": {"field": "date", "type": "temporal", "scale": {"type": "utc", "domain": [{"year": 2019, "month": 1, "date": 27, "utc": true}, {"year": 2019, "month": 7, "date": 3, "utc": true}]},
      "axis": {"title": null, "labels": false, "values": [{"year":2019,"month":2,"date":1,"utc":true},{"year":2019,"month":2,"date":15,"utc":true},{"year":2019,"month":3,"date":1,"utc":true},{"year":2019,"month":3,"date":16,"utc":true},{"year":2019,"month":4,"date":1,"utc":true},{"year":2019,"month":4,"date":16,"utc":true},{"year":2019,"month":5,"date":1,"utc":true},{"year":2019,"month":5,"date":16,"utc":true},{"year":2019,"month":6,"date":1,"utc":true},{"year":2019,"month":6,"date":16,"utc":true},{"year":2019,"month":7,"date":1,"utc":true}],
       "tickOpacity": {"condition": {"test": "utcdate(datum.value) == 1", "value": 1}, "value": 0},
       "gridColor": {"condition": {"test": "utcdate(datum.value) == 1", "value": "#e6e6e6"}, "value": "#f3f3f3"}}},
     "y": {"field": "val", "type": "quantitative", "scale": {"domain": [-9.5, 79], "nice": false, "zero": false},
      "axis": {"title": null, "labels": false, "ticks": false, "values": [0, 10, 20, 30, 40, 50, 60, 70],
       "gridColor": {"condition": {"test": "datum.value % 20 == 0", "value": "#e6e6e6"}, "value": "#f3f3f3"}}},
     "color": {"field": "trt", "type": "nominal", "legend": {"orient": "none", "legendX": 242, "legendY": 33, "direction": "horizontal", "title": null, "symbolType": "circle", "symbolSize": 110, "symbolStrokeWidth": 0, "labelFontSize": 12, "labelColor": "#1a1a1a", "labelOffset": 8, "columnPadding": 30, "padding": 10, "strokeColor": "#111111", "fillColor": "#ffffff"}}
    }},
   {"data": {"name": "fitcab2019"}, "mark": {"type": "line", "interpolate": "monotone", "strokeWidth": 1.8, "clip": true},
    "encoding": {"x": {"field": "date", "type": "temporal"}, "y": {"field": "val", "type": "quantitative"},
     "color": {"field": "trt", "type": "nominal", "legend": {"orient": "none", "legendX": 242, "legendY": 33, "direction": "horizontal", "title": null, "symbolType": "circle", "symbolSize": 110, "symbolStrokeWidth": 0, "labelFontSize": 12, "labelColor": "#1a1a1a", "labelOffset": 8, "columnPadding": 30, "padding": 10, "strokeColor": "#111111", "fillColor": "#ffffff"}}}}
  ]},
 {"width": 500, "height": 234,
  "layer": [
   {"data": {"name": "lai2018"}, "mark": {"type": "circle", "size": 24, "opacity": 0.85},
    "encoding": {
     "x": {"field": "date", "type": "temporal", "scale": {"type": "utc", "domain": [{"year": 2018, "month": 1, "date": 30, "utc": true}, {"year": 2018, "month": 7, "date": 3, "utc": true}]},
      "axis": {"title": null, "values": [{"year":2018,"month":2,"date":1,"utc":true},{"year":2018,"month":2,"date":15,"utc":true},{"year":2018,"month":3,"date":1,"utc":true},{"year":2018,"month":3,"date":16,"utc":true},{"year":2018,"month":4,"date":1,"utc":true},{"year":2018,"month":4,"date":16,"utc":true},{"year":2018,"month":5,"date":1,"utc":true},{"year":2018,"month":5,"date":16,"utc":true},{"year":2018,"month":6,"date":1,"utc":true},{"year":2018,"month":6,"date":16,"utc":true},{"year":2018,"month":7,"date":1,"utc":true}],
       "labelExpr": "utcdate(datum.value) == 1 ? utcFormat(datum.value, '%b') : ''",
       "tickOpacity": {"condition": {"test": "utcdate(datum.value) == 1", "value": 1}, "value": 0},
       "gridColor": {"condition": {"test": "utcdate(datum.value) == 1", "value": "#e6e6e6"}, "value": "#f3f3f3"}}},
     "y": {"field": "val", "type": "quantitative", "scale": {"domain": [-0.35, 7.45], "nice": false, "zero": false},
      "axis": {"title": "LAI (m² m⁻²)", "values": [0, 1, 2, 3, 4, 5, 6, 7], "labelExpr": "datum.value % 2 == 0 ? datum.label : ''", "minExtent": 24, "maxExtent": 24, "titlePadding": 12,
       "tickOpacity": {"condition": {"test": "datum.value % 2 == 0", "value": 1}, "value": 0},
       "gridColor": {"condition": {"test": "datum.value % 2 == 0", "value": "#e6e6e6"}, "value": "#f3f3f3"}}},
     "color": {"field": "trt", "type": "nominal", "legend": {"orient": "none", "legendX": 242, "legendY": 33, "direction": "horizontal", "title": null, "symbolType": "circle", "symbolSize": 110, "symbolStrokeWidth": 0, "labelFontSize": 12, "labelColor": "#1a1a1a", "labelOffset": 8, "columnPadding": 30, "padding": 10, "strokeColor": "#111111", "fillColor": "#ffffff"}}
    }},
   {"data": {"name": "fitlai2018"}, "mark": {"type": "line", "interpolate": "monotone", "strokeWidth": 1.8, "clip": true},
    "encoding": {"x": {"field": "date", "type": "temporal"}, "y": {"field": "val", "type": "quantitative"},
     "color": {"field": "trt", "type": "nominal", "legend": {"orient": "none", "legendX": 242, "legendY": 33, "direction": "horizontal", "title": null, "symbolType": "circle", "symbolSize": 110, "symbolStrokeWidth": 0, "labelFontSize": 12, "labelColor": "#1a1a1a", "labelOffset": 8, "columnPadding": 30, "padding": 10, "strokeColor": "#111111", "fillColor": "#ffffff"}}}},
   {"data": {"values": [{"label": "b)"}]}, "mark": {"type": "text", "fontSize": 18, "fontWeight": "bold", "align": "left", "baseline": "middle", "color": "#000000"},
    "encoding": {"text": {"field": "label", "type": "nominal"}, "x": {"datum": {"year": 2018, "month": 2, "date": 4, "utc": true}, "type": "temporal", "scale": {"type": "utc"}}, "y": {"datum": 6.25, "type": "quantitative"}}}
  ]},
 {"width": 500, "height": 234,
  "layer": [
   {"data": {"name": "lai2019"}, "mark": {"type": "circle", "size": 24, "opacity": 0.85},
    "encoding": {
     "x": {"field": "date", "type": "temporal", "scale": {"type": "utc", "domain": [{"year": 2019, "month": 1, "date": 27, "utc": true}, {"year": 2019, "month": 7, "date": 3, "utc": true}]},
      "axis": {"title": null, "values": [{"year":2019,"month":2,"date":1,"utc":true},{"year":2019,"month":2,"date":15,"utc":true},{"year":2019,"month":3,"date":1,"utc":true},{"year":2019,"month":3,"date":16,"utc":true},{"year":2019,"month":4,"date":1,"utc":true},{"year":2019,"month":4,"date":16,"utc":true},{"year":2019,"month":5,"date":1,"utc":true},{"year":2019,"month":5,"date":16,"utc":true},{"year":2019,"month":6,"date":1,"utc":true},{"year":2019,"month":6,"date":16,"utc":true},{"year":2019,"month":7,"date":1,"utc":true}],
       "labelExpr": "utcdate(datum.value) == 1 ? utcFormat(datum.value, '%b') : ''",
       "tickOpacity": {"condition": {"test": "utcdate(datum.value) == 1", "value": 1}, "value": 0},
       "gridColor": {"condition": {"test": "utcdate(datum.value) == 1", "value": "#e6e6e6"}, "value": "#f3f3f3"}}},
     "y": {"field": "val", "type": "quantitative", "scale": {"domain": [-0.35, 7.45], "nice": false, "zero": false},
      "axis": {"title": null, "labels": false, "ticks": false, "values": [0, 1, 2, 3, 4, 5, 6, 7],
       "gridColor": {"condition": {"test": "datum.value % 2 == 0", "value": "#e6e6e6"}, "value": "#f3f3f3"}}},
     "color": {"field": "trt", "type": "nominal", "legend": {"orient": "none", "legendX": 242, "legendY": 33, "direction": "horizontal", "title": null, "symbolType": "circle", "symbolSize": 110, "symbolStrokeWidth": 0, "labelFontSize": 12, "labelColor": "#1a1a1a", "labelOffset": 8, "columnPadding": 30, "padding": 10, "strokeColor": "#111111", "fillColor": "#ffffff"}}
    }},
   {"data": {"name": "fitlai2019"}, "mark": {"type": "line", "interpolate": "monotone", "strokeWidth": 1.8, "clip": true},
    "encoding": {"x": {"field": "date", "type": "temporal"}, "y": {"field": "val", "type": "quantitative"},
     "color": {"field": "trt", "type": "nominal", "legend": {"orient": "none", "legendX": 242, "legendY": 33, "direction": "horizontal", "title": null, "symbolType": "circle", "symbolSize": 110, "symbolStrokeWidth": 0, "labelFontSize": 12, "labelColor": "#1a1a1a", "labelOffset": 8, "columnPadding": 30, "padding": 10, "strokeColor": "#111111", "fillColor": "#ffffff"}}}}
  ]}
]
}
